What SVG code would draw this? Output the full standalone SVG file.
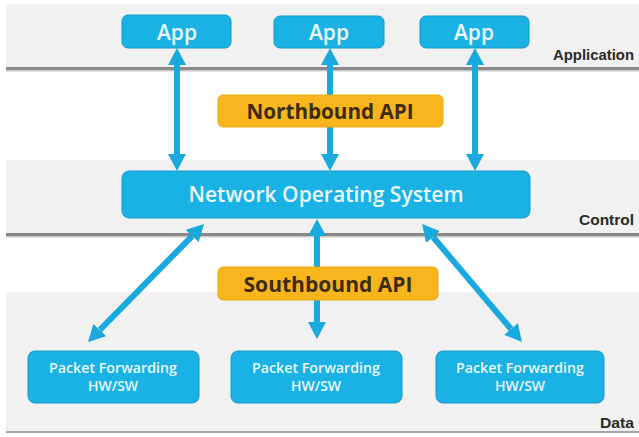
<svg xmlns="http://www.w3.org/2000/svg" width="639" height="437" viewBox="0 0 639 437">
  <defs>
    <style>
      .band { fill: #f1f1f1; }
      .rule { fill: #8a8a8a; }
      .shadow { fill: #c9c9c9; }
      .blue { fill: #1ab2e4; stroke: #1499c8; stroke-width: 1; }
      .orange { fill: #f8b61c; stroke: #e9a510; stroke-width: 1; }
      .wtxt { fill: #eaf8ff; font-family: "Open Sans", "Noto Sans", sans-serif; font-weight: 600; text-anchor: middle; }
      .otxt { fill: #3d2c10; font-family: "Open Sans", "Noto Sans", sans-serif; font-weight: bold; text-anchor: middle; font-size: 22px; }
      .layer { fill: #2a2a2a; font-family: "Liberation Sans", Arial, sans-serif; font-weight: bold; font-size: 14px; text-anchor: end; }
      .conn { stroke: #1aa9dc; stroke-width: 6; fill: none; marker-start: url(#head); marker-end: url(#head); }
    </style>
    <marker id="head" viewBox="0 -9 17 18" refX="0" refY="0" markerWidth="17" markerHeight="18" markerUnits="userSpaceOnUse" orient="auto-start-reverse">
      <path d="M0,-9 L17,0 L0,9 z" fill="#1aa9dc"/>
    </marker>
  </defs>

  <rect width="639" height="437" fill="#ffffff"/>

  <g id="layers">
    <rect class="band" x="6" y="4" width="633" height="64"/>
    <rect class="rule" x="6" y="67" width="633" height="3"/>
    <rect class="shadow" x="6" y="70" width="633" height="1.5"/>
    <rect class="band" x="6" y="160" width="633" height="74"/>
    <rect class="rule" x="6" y="233" width="633" height="3"/>
    <rect class="shadow" x="6" y="236" width="633" height="1.5"/>
    <rect class="band" x="6" y="292" width="633" height="139"/>
    <rect fill="#a5a5a5" x="6" y="431" width="633" height="2"/>
    <text class="layer" x="634" y="60" textLength="81" lengthAdjust="spacingAndGlyphs">Application</text>
    <text class="layer" x="634" y="225" textLength="55" lengthAdjust="spacingAndGlyphs">Control</text>
    <text class="layer" x="634" y="428" textLength="34" lengthAdjust="spacingAndGlyphs">Data</text>
  </g>

  <g id="connectors">
    <line class="conn" x1="177" y1="65" x2="177" y2="154"/>
    <line class="conn" x1="330" y1="65" x2="330" y2="154"/>
    <line class="conn" x1="475" y1="65" x2="475" y2="154"/>
    <line class="conn" x1="317" y1="236" x2="317" y2="322"/>
    <line class="conn" x1="192.1" y1="236.1" x2="99.9" y2="329.9"/>
    <line class="conn" x1="433" y1="237" x2="511" y2="329"/>
  </g>

  <g id="app1">
    <rect class="blue" x="122" y="15" width="109" height="33" rx="6"/>
    <text class="wtxt" x="177" y="40" font-size="21">App</text>
  </g>
  <g id="app2">
    <rect class="blue" x="274" y="16" width="110" height="32" rx="6"/>
    <text class="wtxt" x="329" y="40" font-size="21">App</text>
  </g>
  <g id="app3">
    <rect class="blue" x="420" y="16" width="109" height="32" rx="6"/>
    <text class="wtxt" x="474" y="40" font-size="21">App</text>
  </g>

  <g id="northbound">
    <rect class="orange" x="218" y="95" width="225" height="32" rx="5"/>
    <text class="otxt" x="330" y="119" textLength="167" lengthAdjust="spacingAndGlyphs">Northbound API</text>
  </g>

  <g id="nos">
    <rect class="blue" x="122" y="171" width="408" height="47" rx="7"/>
    <text class="wtxt" x="326" y="202" font-size="21" textLength="275" lengthAdjust="spacingAndGlyphs">Network Operating System</text>
  </g>

  <g id="southbound">
    <rect class="orange" x="218" y="267" width="220" height="33" rx="5"/>
    <text class="otxt" x="328" y="292" textLength="169" lengthAdjust="spacingAndGlyphs">Southbound API</text>
  </g>

  <g id="pf1">
    <rect class="blue" x="28" y="351" width="171" height="52" rx="7"/>
    <text class="wtxt" x="113" y="373" font-size="14" textLength="128" lengthAdjust="spacingAndGlyphs">Packet Forwarding</text>
    <text class="wtxt" x="113" y="391" font-size="14">HW/SW</text>
  </g>
  <g id="pf2">
    <rect class="blue" x="231" y="351" width="171" height="52" rx="7"/>
    <text class="wtxt" x="316" y="373" font-size="14" textLength="128" lengthAdjust="spacingAndGlyphs">Packet Forwarding</text>
    <text class="wtxt" x="316" y="391" font-size="14">HW/SW</text>
  </g>
  <g id="pf3">
    <rect class="blue" x="436" y="351" width="168" height="52" rx="7"/>
    <text class="wtxt" x="520" y="373" font-size="14" textLength="128" lengthAdjust="spacingAndGlyphs">Packet Forwarding</text>
    <text class="wtxt" x="520" y="391" font-size="14">HW/SW</text>
  </g>
</svg>
